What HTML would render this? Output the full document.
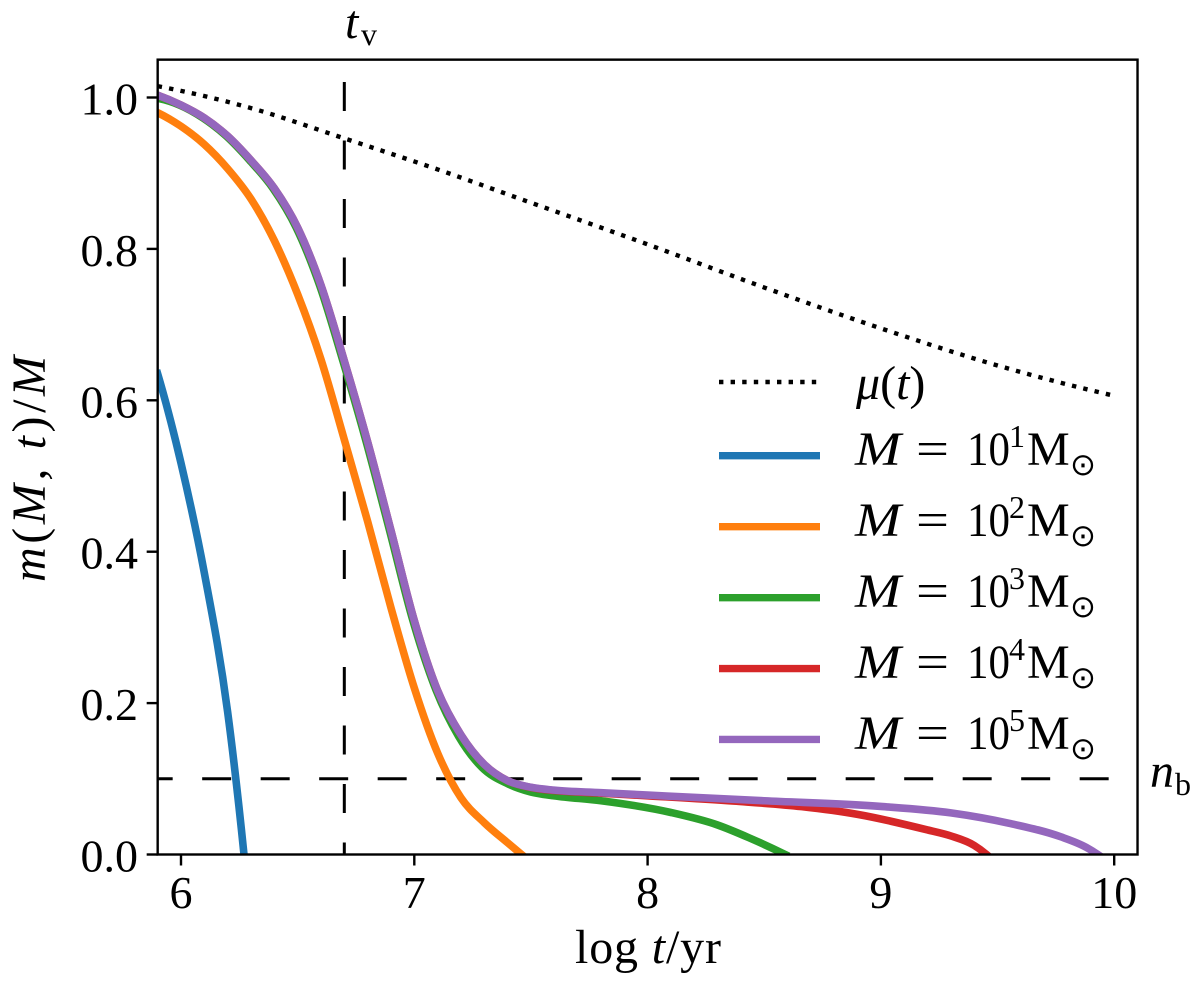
<!DOCTYPE html>
<html>
<head>
<meta charset="utf-8">
<title>m(M,t)/M chart</title>
<style>
html,body{margin:0;padding:0;background:#fff;width:1200px;height:981px;overflow:hidden}
svg{display:block}
text{font-family:"Liberation Serif","DejaVu Serif",serif;fill:#000}
.it{font-style:italic}
.big{font-size:46px}
.lg{font-size:48px}
.sup{font-size:32px}
.sun{font-family:"DejaVu Sans",sans-serif;font-size:31px}
</style>
</head>
<body>
<svg id="chart" width="1200" height="981" viewBox="0 0 1200 981" xmlns="http://www.w3.org/2000/svg">
  <defs>
    <clipPath id="plot-clip"><rect x="157.7" y="60.2" width="980" height="794.5"></rect></clipPath>
  </defs>
  <rect x="0" y="0" width="1200" height="981" fill="#fff"></rect>
  <g id="marks" clip-path="url(#plot-clip)"></g>
  <g id="axes"></g>

  <text class="lg" x="575" y="963" textLength="146" lengthAdjust="spacing">log <tspan class="it">t</tspan>/yr</text>
  <text class="lg" transform="translate(45,582) rotate(-90)" x="0" y="0" textLength="226" lengthAdjust="spacing"><tspan class="it">m</tspan>(<tspan class="it">M, t</tspan>)/<tspan class="it">M</tspan></text>

  <g>
    <text class="lg it" x="345" y="38">t</text>
    <text class="sup" x="361" y="45">v</text>
  </g>
  <g>
    <text class="lg it" x="1150" y="787">n</text>
    <text class="sup" x="1175" y="795">b</text>
  </g>

  <g id="legend">
    <g>
      <line x1="719" x2="817" y1="382" y2="382" stroke="#000" stroke-width="4.4" stroke-dasharray="4.4 7.2"></line>
      <text class="lg" x="856" y="399"><tspan class="it">μ</tspan>(<tspan class="it">t</tspan>)</text>
    </g>
    <g>
      <line x1="719" x2="820" y1="455.7" y2="455.7" stroke="#1f77b4" stroke-width="7.4"></line>
      <text class="lg it" x="855" y="465" textLength="46" lengthAdjust="spacingAndGlyphs">M</text><text class="lg" x="916" y="465" textLength="33" lengthAdjust="spacingAndGlyphs">=</text><text class="lg" x="967" y="465" textLength="43" lengthAdjust="spacingAndGlyphs">10</text><text class="sup" x="1009" y="447">1</text><text class="lg" x="1027" y="465">M</text><text class="sun" x="1070" y="475">⊙</text>
    </g>
    <g>
      <line x1="719" x2="820" y1="526.7" y2="526.7" stroke="#ff7f0e" stroke-width="7.4"></line>
      <text class="lg it" x="855" y="536" textLength="46" lengthAdjust="spacingAndGlyphs">M</text><text class="lg" x="916" y="536" textLength="33" lengthAdjust="spacingAndGlyphs">=</text><text class="lg" x="967" y="536" textLength="43" lengthAdjust="spacingAndGlyphs">10</text><text class="sup" x="1009" y="518">2</text><text class="lg" x="1027" y="536">M</text><text class="sun" x="1070" y="546">⊙</text>
    </g>
    <g>
      <line x1="719" x2="820" y1="597.7" y2="597.7" stroke="#2ca02c" stroke-width="7.4"></line>
      <text class="lg it" x="855" y="607" textLength="46" lengthAdjust="spacingAndGlyphs">M</text><text class="lg" x="916" y="607" textLength="33" lengthAdjust="spacingAndGlyphs">=</text><text class="lg" x="967" y="607" textLength="43" lengthAdjust="spacingAndGlyphs">10</text><text class="sup" x="1009" y="589">3</text><text class="lg" x="1027" y="607">M</text><text class="sun" x="1070" y="617">⊙</text>
    </g>
    <g>
      <line x1="719" x2="820" y1="668.6" y2="668.6" stroke="#d62728" stroke-width="7.4"></line>
      <text class="lg it" x="855" y="678" textLength="46" lengthAdjust="spacingAndGlyphs">M</text><text class="lg" x="916" y="678" textLength="33" lengthAdjust="spacingAndGlyphs">=</text><text class="lg" x="967" y="678" textLength="43" lengthAdjust="spacingAndGlyphs">10</text><text class="sup" x="1009" y="660">4</text><text class="lg" x="1027" y="678">M</text><text class="sun" x="1070" y="688">⊙</text>
    </g>
    <g>
      <line x1="719" x2="820" y1="739.4" y2="739.4" stroke="#9467bd" stroke-width="7.4"></line>
      <text class="lg it" x="855" y="749" textLength="46" lengthAdjust="spacingAndGlyphs">M</text><text class="lg" x="916" y="749" textLength="33" lengthAdjust="spacingAndGlyphs">=</text><text class="lg" x="967" y="749" textLength="43" lengthAdjust="spacingAndGlyphs">10</text><text class="sup" x="1009" y="731">5</text><text class="lg" x="1027" y="749">M</text><text class="sun" x="1070" y="759">⊙</text>
    </g>
  </g>
</svg>
<script>
// ---- chart data ----
const xTicks = [6, 7, 8, 9, 10];
const yTicks = [0, 0.2, 0.4, 0.6, 0.8, 1.0];
const xTickLabels = ['6', '7', '8', '9', '10'];
const yTickLabels = ['0.0', '0.2', '0.4', '0.6', '0.8', '1.0'];

const tVirial = 6.7;
const nBreak = 0.1;

const muLogT = [5.9, 6.3, 6.7, 7.1, 7.5, 8, 8.5, 9, 9.5, 10];
const muValues = [1.015, 0.986, 0.946, 0.905, 0.861, 0.806, 0.749, 0.695, 0.646, 0.606];

const m1LogT = [5.9, 6, 6.1, 6.2, 6.27];
const m1Values = [0.635, 0.517, 0.372, 0.188, 0];

const m2LogT = [5.9, 6, 6.1, 6.2, 6.3, 6.4, 6.5, 6.6, 6.7, 6.8, 6.9, 7, 7.1, 7.2, 7.3, 7.4, 7.46];
const m2Values = [0.98, 0.962, 0.938, 0.906, 0.866, 0.811, 0.74, 0.654, 0.548, 0.44, 0.326, 0.22, 0.134, 0.075, 0.042, 0.0155, 0];

const m3LogT = [5.9, 5.994, 6.094, 6.194, 6.294, 6.394, 6.494, 6.594, 6.694, 6.794, 6.894, 6.994, 7.094, 7.19, 7.29, 7.4, 7.5, 7.6, 7.8, 8.1, 8.3, 8.44, 8.59];
const m3Values = [0.999, 0.99, 0.973, 0.949, 0.917, 0.88, 0.828, 0.752, 0.652, 0.545, 0.428, 0.309, 0.2165, 0.156, 0.115, 0.0935, 0.0825, 0.0775, 0.071, 0.0555, 0.039, 0.0214, 0];

const m4LogT = [5.9, 6, 6.1, 6.2, 6.3, 6.4, 6.5, 6.6, 6.7, 6.8, 6.9, 7, 7.1, 7.2, 7.3, 7.4, 7.5, 7.6, 7.8, 8, 8.37, 8.66, 8.9, 9.2, 9.3, 9.4, 9.453];
const m4Values = [1.003, 0.99, 0.973, 0.949, 0.917, 0.88, 0.828, 0.752, 0.652, 0.545, 0.428, 0.309, 0.2165, 0.158, 0.119, 0.0975, 0.0885, 0.0845, 0.081, 0.0775, 0.0705, 0.0632, 0.053, 0.0324, 0.0245, 0.012, 0];

const m5LogT = [5.9, 6, 6.1, 6.2, 6.3, 6.4, 6.5, 6.6, 6.7, 6.8, 6.9, 7, 7.1, 7.2, 7.3, 7.4, 7.5, 7.6, 7.8, 8, 8.5, 9, 9.3, 9.55, 9.77, 9.88, 9.93];
const m5Values = [1.003, 0.99, 0.973, 0.949, 0.917, 0.88, 0.828, 0.752, 0.652, 0.545, 0.428, 0.309, 0.2165, 0.158, 0.119, 0.0975, 0.0888, 0.085, 0.0817, 0.0785, 0.071, 0.0635, 0.055, 0.0412, 0.0235, 0.0095, 0];

// ---- axis functions ----
function xScale(v) { return 181 + (v - 6) * 233.3; }
function yScale(v) { return 854.5 - v * 757; }

const NS = 'http://www.w3.org/2000/svg';
function svgEl(tag, attrs) {
  const el = document.createElementNS(NS, tag);
  for (const k in attrs) el.setAttribute(k, attrs[k]);
  return el;
}

// smooth cubic path through data points (three-point finite-difference tangents)
function curvePath(xs, ys) {
  const px = xs.map(xScale), py = ys.map(yScale), n = px.length;
  const d = [], m = new Array(n);
  for (let i = 0; i < n - 1; i++) d.push((py[i + 1] - py[i]) / (px[i + 1] - px[i]));
  for (let i = 1; i < n - 1; i++) {
    const h0 = px[i] - px[i - 1], h1 = px[i + 1] - px[i];
    m[i] = (h1 * d[i - 1] + h0 * d[i]) / (h0 + h1);
  }
  m[0] = 2 * d[0] - m[1];
  m[n - 1] = 2 * d[n - 2] - m[n - 2];
  let out = 'M' + px[0].toFixed(2) + ' ' + py[0].toFixed(2);
  for (let i = 0; i < n - 1; i++) {
    const h = (px[i + 1] - px[i]) / 3;
    out += 'C' + (px[i] + h).toFixed(2) + ' ' + (py[i] + m[i] * h).toFixed(2) + ' ' +
      (px[i + 1] - h).toFixed(2) + ' ' + (py[i + 1] - m[i + 1] * h).toFixed(2) + ' ' +
      px[i + 1].toFixed(2) + ' ' + py[i + 1].toFixed(2);
  }
  return out;
}

const marks = document.getElementById('marks');
const axes = document.getElementById('axes');

// reference lines
const vLine = svgEl('line', {
  x1: xScale(tVirial), x2: xScale(tVirial), y1: yScale(1.0205), y2: yScale(0),
  stroke: '#000', 'stroke-width': 3, 'stroke-dasharray': '29 29.5'
});


marks.appendChild(vLine);

const hLine = svgEl('line', {
  x1: xScale(5.84), x2: xScale(10), y1: yScale(nBreak), y2: yScale(nBreak),
  stroke: '#000', 'stroke-width': 3, 'stroke-dasharray': '29 29.5'
});


marks.appendChild(hLine);

// series
const muPath = svgEl('path', {
  d: curvePath(muLogT, muValues), fill: 'none', stroke: '#000',
  'stroke-width': 4.4, 'stroke-dasharray': '4.4 7.2'
});


marks.appendChild(muPath);

const m1Path = svgEl('path', { d: curvePath(m1LogT, m1Values), fill: 'none', stroke: '#1f77b4', 'stroke-width': 7.6, 'stroke-linecap': 'square' });


marks.appendChild(m1Path);

const m2Path = svgEl('path', { d: curvePath(m2LogT, m2Values), fill: 'none', stroke: '#ff7f0e', 'stroke-width': 7.6, 'stroke-linecap': 'square' });


marks.appendChild(m2Path);

const m3Path = svgEl('path', { d: curvePath(m3LogT, m3Values), fill: 'none', stroke: '#2ca02c', 'stroke-width': 7.6, 'stroke-linecap': 'square' });


marks.appendChild(m3Path);

const m4Path = svgEl('path', { d: curvePath(m4LogT, m4Values), fill: 'none', stroke: '#d62728', 'stroke-width': 7.6, 'stroke-linecap': 'square' });


marks.appendChild(m4Path);

const m5Path = svgEl('path', { d: curvePath(m5LogT, m5Values), fill: 'none', stroke: '#9467bd', 'stroke-width': 7.6, 'stroke-linecap': 'square' });


marks.appendChild(m5Path);

// frame
const frame = svgEl('rect', {
  x: xScale(5.9), y: yScale(1.05), width: xScale(10.1) - xScale(5.9), height: yScale(0) - yScale(1.05),
  fill: 'none', stroke: '#000', 'stroke-width': 2.4
});


axes.appendChild(frame);

// x ticks
xTicks.forEach(function (v, i) {
  const t = svgEl('line', { x1: xScale(v), x2: xScale(v), y1: yScale(0), y2: yScale(0) + 11, stroke: '#000', 'stroke-width': 2.4 });
  
  
  axes.appendChild(t);
  const l = svgEl('text', { x: xScale(v), y: 908, 'text-anchor': 'middle', 'class': 'big' });
  l.textContent = xTickLabels[i];
  
  
  axes.appendChild(l);
});

// y ticks
yTicks.forEach(function (v, i) {
  const t = svgEl('line', { x1: xScale(5.9) - 11, x2: xScale(5.9), y1: yScale(v), y2: yScale(v), stroke: '#000', 'stroke-width': 2.4 });
  
  
  axes.appendChild(t);
  const l = svgEl('text', { x: 138, y: yScale(v) + 17, 'text-anchor': 'end', 'class': 'big' });
  l.textContent = yTickLabels[i];
  
  
  axes.appendChild(l);
});
</script>
</body>
</html>
